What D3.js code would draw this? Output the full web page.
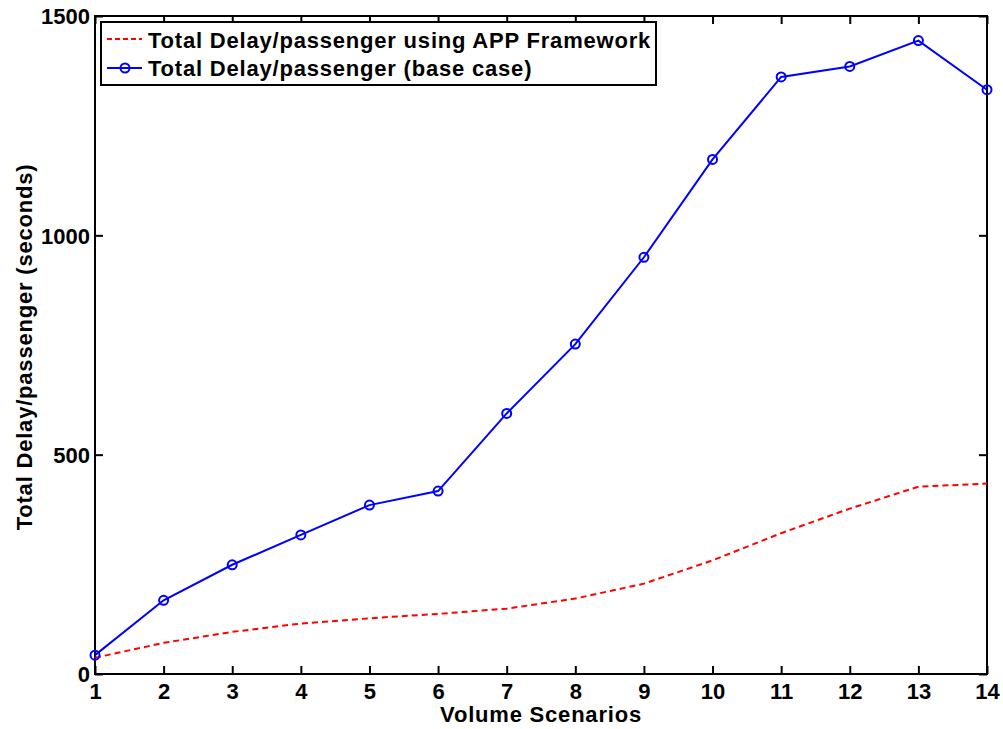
<!DOCTYPE html>
<html><head><meta charset="utf-8">
<script src="https://cdn.jsdelivr.net/npm/d3@7"></script>
<style>body{margin:0;background:#fff}svg{display:block}text{font-family:"Liberation Sans",Arial,sans-serif;font-weight:bold;fill:#000}</style>
</head><body><svg id="c" width="1003" height="729"></svg>
<script>
const scenarios = [1,2,3,4,5,6,7,8,9,10,11,12,13,14];
const appFramework = [37,71,96,115,127,137,149,172,206,259,321,377,427,434];
const baseCase = [43,168,249,317,385,417,594,752,950,1173,1361,1385,1444,1332];
const xTicks = [1,2,3,4,5,6,7,8,9,10,11,12,13,14];
const yTicks = [0,500,1000,1500];
const seriesNames = ["Total Delay/passenger using APP Framework","Total Delay/passenger (base case)"];
const xTitle = "Volume Scenarios";
const yTitle = "Total Delay/passenger (seconds)";

const L=95, R=987, T=16, B=674;
const svg=d3.select("#c");
const x=d3.scaleLinear().domain([1,14]).range([L,R]);
const y=d3.scaleLinear().domain([0,1500]).range([B,T]);

svg.append("rect").attr("x",L).attr("y",T).attr("width",R-L).attr("height",B-T)
  .attr("fill","none").attr("stroke","#000").attr("stroke-width",2);

const fs=22, ls="0.8px";
const gxB=svg.append("g").attr("transform",`translate(0,${B})`)
  .call(d3.axisBottom(x).tickValues(xTicks).tickSizeInner(-8).tickSizeOuter(0).tickPadding(9).tickFormat(d3.format("d")));
const gxT=svg.append("g").attr("transform",`translate(0,${T})`)
  .call(d3.axisTop(x).tickValues(xTicks).tickSizeInner(-8).tickSizeOuter(0).tickFormat(""));
const gyL=svg.append("g").attr("transform",`translate(${L},0)`)
  .call(d3.axisLeft(y).tickValues(yTicks).tickSizeInner(-8).tickSizeOuter(0).tickPadding(5).tickFormat(d3.format("d")));
const gyR=svg.append("g").attr("transform",`translate(${R},0)`)
  .call(d3.axisRight(y).tickValues(yTicks).tickSizeInner(-8).tickSizeOuter(0).tickFormat(""));
[gxB,gxT,gyL,gyR].forEach(g=>{
  g.select(".domain").remove();
  g.selectAll(".tick line").attr("stroke","#000").attr("stroke-width",2);
  g.selectAll("text").attr("font-size",fs).attr("font-family",'"Liberation Sans",Arial,sans-serif').attr("font-weight","bold").attr("fill","#000");
});
gyL.selectAll(".tick text").attr("dy","0.36em");
gxB.selectAll(".tick text").attr("dy","0.71em");

svg.append("text").attr("x",(L+R)/2).attr("y",722).attr("text-anchor","middle").attr("font-size",fs).attr("letter-spacing",ls).text(xTitle);
svg.append("text").attr("transform",`translate(32,${(T+B)/2+2}) rotate(-90)`).attr("text-anchor","middle").attr("font-size",fs).attr("letter-spacing",ls).text(yTitle);

const line=d3.line().x((d,i)=>x(scenarios[i])).y(d=>y(d));
svg.append("path").datum(appFramework).attr("d",line).attr("fill","none")
  .attr("stroke","#ff0000").attr("stroke-width",2).attr("stroke-dasharray","6,4");
svg.append("path").datum(baseCase).attr("d",line).attr("fill","none")
  .attr("stroke","#0000ff").attr("stroke-width",2);
svg.selectAll("circle.m").data(baseCase).join("circle").attr("class","m")
  .attr("cx",(d,i)=>x(scenarios[i])).attr("cy",d=>y(d)).attr("r",4.5)
  .attr("fill","none").attr("stroke","#0000ff").attr("stroke-width",2);

const lg=svg.append("g");
lg.append("rect").attr("x",101).attr("y",22).attr("width",555).attr("height",63)
  .attr("fill","#fff").attr("stroke","#000").attr("stroke-width",2);
lg.append("line").attr("x1",107).attr("x2",142).attr("y1",39).attr("y2",39)
  .attr("stroke","#ff0000").attr("stroke-width",2).attr("stroke-dasharray","5,3");
lg.append("line").attr("x1",107).attr("x2",142).attr("y1",68).attr("y2",68)
  .attr("stroke","#0000ff").attr("stroke-width",2);
lg.append("circle").attr("cx",125).attr("cy",68).attr("r",4.5).attr("fill","none").attr("stroke","#0000ff").attr("stroke-width",2);
lg.append("text").attr("x",148).attr("y",48).attr("font-size",fs).attr("letter-spacing",ls).text(seriesNames[0]);
lg.append("text").attr("x",148).attr("y",76).attr("font-size",fs).attr("letter-spacing",ls).text(seriesNames[1]);
</script></body></html>
